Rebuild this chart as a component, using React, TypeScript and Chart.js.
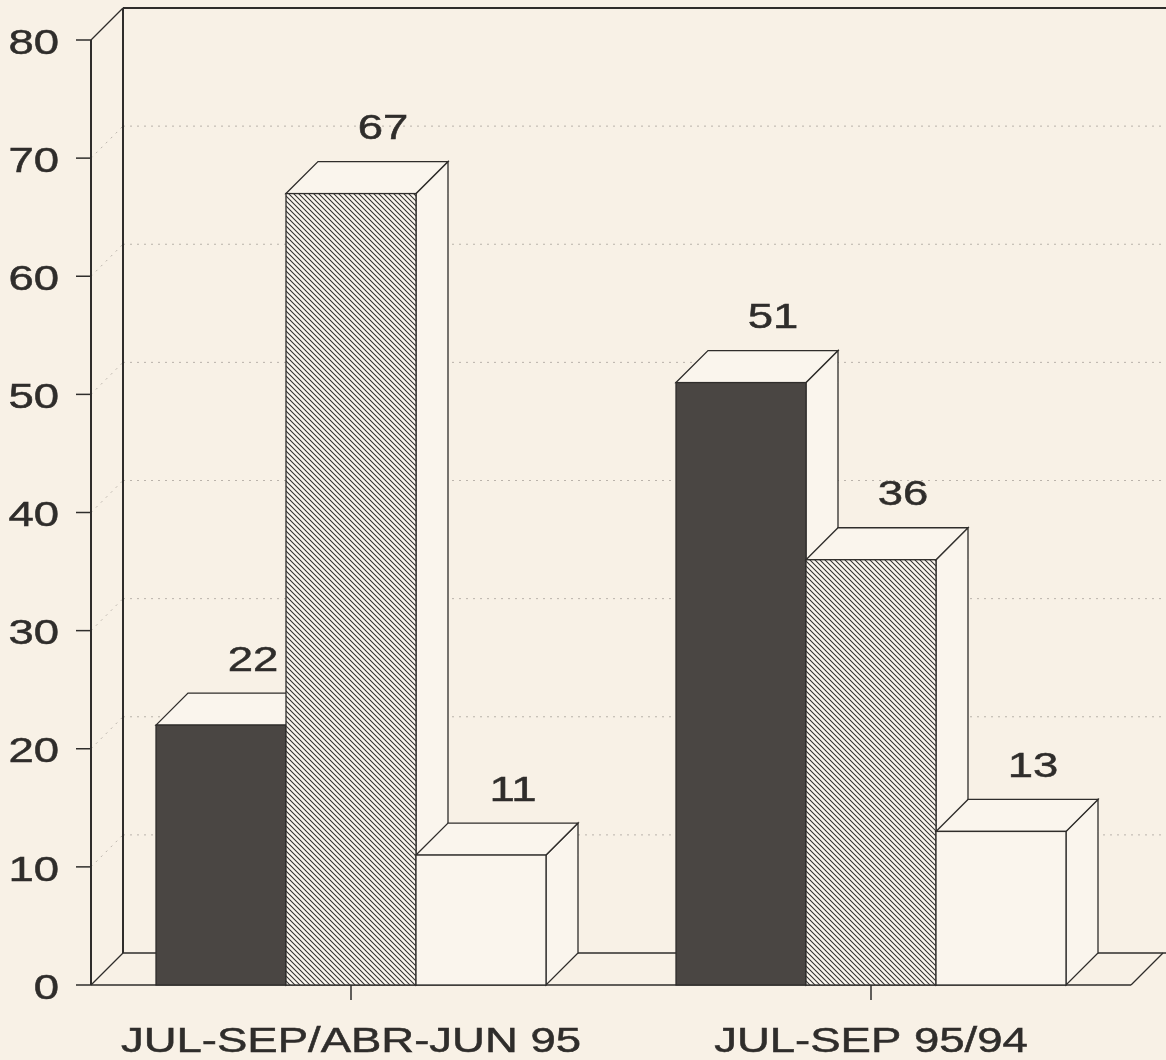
import { useEffect, useRef } from 'react';
import { Chart, registerables } from 'chart.js';

Chart.register(...registerables);

// ---- data ----
const categories = ['JUL-SEP/ABR-JUN 95', 'JUL-SEP 95/94'];
const seriesDark = [22, 51];
const seriesHatched = [67, 36];
const seriesLight = [11, 13];
const yTicks = [0, 10, 20, 30, 40, 50, 60, 70, 80];
const gridValues = [10, 20, 30, 40, 50, 60, 70];

// ---- style ----
const BG = '#f8f1e6';
const FACE = '#faf5ed';
const INK = '#2f2d2b';
const DARK = '#4a4643';
const DEPTH = 32;
const STRETCH = 1.3;
const FONT = '35px "Liberation Sans", Arial, sans-serif';

function makeHatch(): CanvasPattern | string {
  const s = 5;
  const c = document.createElement('canvas');
  c.width = s;
  c.height = s;
  const g = c.getContext('2d');
  if (!g) return '#888';
  g.fillStyle = FACE;
  g.fillRect(0, 0, s, s);
  g.strokeStyle = '#333231';
  g.lineWidth = 1.05;
  for (const k of [-s, 0, s]) {
    g.beginPath();
    g.moveTo(k - 1, -1);
    g.lineTo(k + s + 1, s + 1);
    g.stroke();
  }
  const p = g.createPattern(c, 'repeat');
  return p || '#888';
}

function stretchedText(ctx: CanvasRenderingContext2D, text: string, x: number, y: number, align: CanvasTextAlign) {
  ctx.save();
  ctx.translate(x, y);
  ctx.scale(STRETCH, 1);
  ctx.textAlign = align;
  ctx.textBaseline = 'middle';
  ctx.lineWidth = 0.5;
  ctx.strokeStyle = ctx.fillStyle as string;
  ctx.fillText(text, 0, 0);
  ctx.strokeText(text, 0, 0);
  ctx.restore();
}

function line(ctx: CanvasRenderingContext2D, x1: number, y1: number, x2: number, y2: number) {
  ctx.beginPath();
  ctx.moveTo(x1, y1);
  ctx.lineTo(x2, y2);
  ctx.stroke();
}

export default function App() {
  const ref = useRef<HTMLCanvasElement | null>(null);

  useEffect(() => {
    document.body.style.margin = '0';
    document.body.style.background = BG;
    const canvas = ref.current;
    if (!canvas) return;

    const fills: (string | CanvasPattern)[] = [DARK, makeHatch(), FACE];

    const frame3d = {
      id: 'frame3d',
      beforeDraw(chart: any) {
        const { ctx, width, height } = chart;
        ctx.save();
        ctx.fillStyle = BG;
        ctx.fillRect(0, 0, width, height);
        ctx.restore();
      },
      beforeDatasetsDraw(chart: any) {
        const { ctx, chartArea, scales, width } = chart;
        const { left: L, right: R, top: T, bottom: B } = chartArea;
        const D = DEPTH;
        const ys = scales.y;
        const xs = scales.x;
        ctx.save();
        // gridlines (faint dotted)
        ctx.strokeStyle = 'rgba(110,105,100,0.45)';
        ctx.lineWidth = 1;
        ctx.setLineDash([2, 5]);
        for (const v of gridValues) {
          const y = ys.getPixelForValue(v);
          line(ctx, L, y, L + D, y - D);
          line(ctx, L + D, y - D, width, y - D);
        }
        ctx.setLineDash([]);
        // walls
        ctx.strokeStyle = INK;
        ctx.lineWidth = 2;
        line(ctx, L + D, T - D, width, T - D); // back top
        line(ctx, L + D, T - D, L + D, B - D); // back left
        line(ctx, L, T, L, B); // y axis
        ctx.lineWidth = 1.3;
        line(ctx, L, T, L + D, T - D);
        line(ctx, L, B, L + D, B - D);
        line(ctx, L + D, B - D, width, B - D); // back floor
        line(ctx, L, B, R, B); // front floor
        line(ctx, R, B, R + D, B - D);
        // y ticks + labels
        ctx.lineWidth = 1.5;
        ctx.fillStyle = INK;
        ctx.font = FONT;
        for (const v of yTicks) {
          const y = ys.getPixelForValue(v);
          line(ctx, L - 15, y, L, y);
          stretchedText(ctx, String(v), 59, y + 4, 'right');
        }
        // x ticks + labels
        categories.forEach((c, i) => {
          const x = xs.getPixelForValue(i);
          line(ctx, x, B, x, B + 15);
          stretchedText(ctx, c, x, B + 57, 'center');
        });
        ctx.restore();
      },
      afterDatasetsDraw(chart: any) {
        const { ctx } = chart;
        const D = DEPTH;
        const metas = [0, 1, 2].map((i) => chart.getDatasetMeta(i));
        const labels: { x: number; y: number; t: string }[] = [];
        ctx.save();
        ctx.strokeStyle = INK;
        ctx.lineWidth = 1.3;
        ctx.lineJoin = 'miter';
        for (let c = 0; c < categories.length; c++) {
          metas.forEach((meta, d) => {
            const el = meta.data[c];
            const w = el.width;
            const l = el.x - w / 2;
            const r = el.x + w / 2;
            const t = el.y;
            const b = el.base;
            // side face
            ctx.beginPath();
            ctx.moveTo(r, t);
            ctx.lineTo(r + D, t - D);
            ctx.lineTo(r + D, b - D);
            ctx.lineTo(r, b);
            ctx.closePath();
            ctx.fillStyle = FACE;
            ctx.fill();
            ctx.stroke();
            // top face
            ctx.beginPath();
            ctx.moveTo(l, t);
            ctx.lineTo(l + D, t - D);
            ctx.lineTo(r + D, t - D);
            ctx.lineTo(r, t);
            ctx.closePath();
            ctx.fillStyle = FACE;
            ctx.fill();
            ctx.stroke();
            // front face
            ctx.fillStyle = fills[d];
            ctx.fillRect(l, t, w, b - t);
            ctx.strokeRect(l, t, w, b - t);
            const val = chart.data.datasets[d].data[c];
            labels.push({ x: el.x + D, y: t - D - 32, t: String(val) });
          });
        }
        ctx.fillStyle = INK;
        ctx.font = FONT;
        for (const lb of labels) stretchedText(ctx, lb.t, lb.x, lb.y, 'center');
        ctx.restore();
      },
    };

    const chart = new Chart(canvas, {
      type: 'bar',
      data: {
        labels: categories,
        datasets: [
          { label: 'A', data: seriesDark, backgroundColor: 'rgba(0,0,0,0)', borderWidth: 0 },
          { label: 'B', data: seriesHatched, backgroundColor: 'rgba(0,0,0,0)', borderWidth: 0 },
          { label: 'C', data: seriesLight, backgroundColor: 'rgba(0,0,0,0)', borderWidth: 0 },
        ],
      },
      options: {
        responsive: false,
        animation: false,
        devicePixelRatio: 1,
        layout: { padding: { left: 91, right: 35, top: 40, bottom: 75 } },
        datasets: { bar: { barPercentage: 1, categoryPercentage: 0.75 } },
        plugins: { legend: { display: false }, tooltip: { enabled: false } },
        scales: {
          x: { display: false, offset: true },
          y: { display: false, min: 0, max: 80 },
        },
      },
      plugins: [frame3d],
    } as any);

    return () => chart.destroy();
  }, []);

  return (
    <div style={{ width: 1166, height: 1060, background: BG }}>
      <canvas ref={ref} width={1166} height={1060} style={{ display: 'block' }} />
    </div>
  );
}
